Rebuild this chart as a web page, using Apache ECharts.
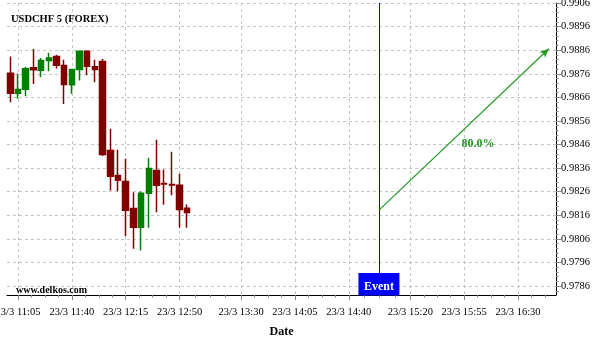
<!DOCTYPE html>
<html><head><meta charset="utf-8">
<script src="https://cdn.jsdelivr.net/npm/echarts@6/dist/echarts.min.js"></script>
<style>html,body{margin:0;padding:0;background:#fff}#c{width:600px;height:340px}</style>
</head><body><div id="c"></div>
<script>
const titleText = 'USDCHF 5 (FOREX)';
const watermark = 'www.delkos.com';
const times  = ['11:00','11:05','11:10','11:15','11:20','11:25','11:30','11:35','11:40','11:45','11:50','11:55',
                '12:00','12:05','12:10','12:15','12:20','12:25','12:30','12:35','12:40','12:45','12:50','12:55'];
const opens  = [0.98762,0.98677,0.98694,0.98786,0.98775,0.98816,0.98833,0.98795,0.98713,0.98778,0.98855,0.98790,
                0.98812,0.98435,0.98329,0.98303,0.98189,0.98109,0.98253,0.98350,0.98295,0.98290,0.98287,0.98190];
const closes = [0.98677,0.98693,0.98781,0.98777,0.98816,0.98827,0.98796,0.98714,0.98778,0.98855,0.98792,0.98778,
                0.98418,0.98325,0.98308,0.98181,0.98109,0.98253,0.98358,0.98287,0.98293,0.98288,0.98185,0.98172];
const lows   = [0.98639,0.98654,0.98665,0.98717,0.98745,0.98771,0.98782,0.98632,0.98675,0.98731,0.98754,0.98724,
                0.98411,0.98265,0.98262,0.98071,0.98018,0.98011,0.98107,0.98173,0.98205,0.98245,0.98107,0.98107];
const highs  = [0.98833,0.98761,0.98790,0.98865,0.98827,0.98849,0.98841,0.98819,0.98781,0.98855,0.98855,0.98819,
                0.98823,0.98527,0.98438,0.98400,0.98258,0.98261,0.98404,0.98480,0.98354,0.98429,0.98336,0.98206];
const xTickLabels = ['11:05','11:40','12:15','12:50','13:30','14:05','14:40','15:20','15:55','16:30'];
const yTickLabels = [0.9786,0.9796,0.9806,0.9816,0.9826,0.9836,0.9846,0.9856,0.9866,0.9876,0.9886,0.9896,0.9906];
const eventTime = '15:00';
const eventLabel = 'Event';
const arrowFrom = ['15:00', 0.98184];
const arrowTo   = ['16:50', 0.98866];
const arrowText = '80.0%';
const arrowTextAt = ['16:04', 0.98463];

const toMin = s => { const p = s.split(':'); return (+p[0]) * 60 + (+p[1]); };
const fmtMin = v => { const h = Math.floor(v / 60), m = Math.round(v - h * 60); return '23/3 ' + h + ':' + (m < 10 ? '0' : '') + m; };
const xMin = 657.85, xMax = 1014.7, yMin = 0.97822, yMax = 0.9906;
const FONT = 'Liberation Serif';

const xMajor = xTickLabels.map(toMin);
const xMinor = [];
for (let i = 0; i < xMajor.length - 1; i++) {
  const a = xMajor[i], b = xMajor[i + 1];
  for (let k = 1; k < 4; k++) xMinor.push(a + (b - a) * k / 4);
}
for (let k = 1; k < 4; k++) { const v = xMajor[xMajor.length - 1] + 8.75 * k; if (v < xMax) xMinor.push(v); }
for (let k = 1; k < 4; k++) { const v = xMajor[0] - 8.75 * k; if (v > xMin) xMinor.push(v); }
const yMinor = [];
for (let v = 0.9784; v < yMax; v += 0.0002) yMinor.push(+v.toFixed(4));

const candles = times.map((t, i) => [toMin(t), opens[i], closes[i], lows[i], highs[i]]);

const chart = echarts.init(document.getElementById('c'), null, { renderer: 'canvas' });
const dashed = { show: true, lineStyle: { color: '#c4c4c4', type: [3, 3], width: 1 } };
chart.setOption({
  animation: false,
  backgroundColor: '#fff',
  title: [
    { text: titleText, left: 11, top: 14, padding: 0, textStyle: { fontFamily: FONT, fontWeight: 'bold', fontSize: 10.5, color: '#000' } },
    { text: watermark, left: 16, top: 285, padding: 0, textStyle: { fontFamily: FONT, fontWeight: 'bold', fontSize: 10, color: '#000' } }
  ],
  grid: { left: 7, right: 44, top: 3, bottom: 45, containLabel: false, outerBoundsMode: 'none' },
  xAxis: [
    {
      type: 'value', min: xMin, max: xMax, position: 'bottom',
      name: 'Date', nameLocation: 'middle', nameGap: 31,
      nameTextStyle: { fontFamily: FONT, fontWeight: 'bold', fontSize: 12, color: '#000' },
      axisLine: { show: true, lineStyle: { color: '#000', width: 1 } },
      axisTick: { show: true, length: 5, lineStyle: { color: '#888' }, customValues: xMajor },
      axisLabel: { show: true, customValues: xMajor, formatter: fmtMin, margin: 12,
                   fontFamily: FONT, fontSize: 10.5, color: '#000', hideOverlap: false },
      splitLine: dashed
    },
    {
      type: 'value', min: xMin, max: xMax, position: 'bottom', gridIndex: 0,
      axisLine: { show: false },
      axisTick: { show: true, length: 2.5, lineStyle: { color: '#888' }, customValues: xMinor },
      axisLabel: { show: false },
      splitLine: { show: false }
    }
  ],
  yAxis: [
    {
      type: 'value', min: yMin, max: yMax, position: 'right', scale: true,
      axisLine: { show: true, lineStyle: { color: '#000', width: 1 } },
      axisTick: { show: true, length: 5, lineStyle: { color: '#888' }, customValues: yTickLabels },
      axisLabel: { show: true, customValues: yTickLabels, formatter: v => v.toFixed(4), margin: 5,
                   fontFamily: FONT, fontSize: 10.5, color: '#000' },
      splitLine: dashed
    },
    {
      type: 'value', min: yMin, max: yMax, position: 'right', scale: true,
      axisLine: { show: false },
      axisTick: { show: true, length: 2.5, lineStyle: { color: '#888' }, customValues: yMinor },
      axisLabel: { show: false },
      splitLine: { show: false }
    }
  ],
  series: [{
    type: 'candlestick',
    xAxisIndex: 0, yAxisIndex: 0,
    data: candles,
    encode: { x: 0, y: [1, 2, 3, 4] },
    barWidth: 6,
    itemStyle: { color: '#008000', color0: '#800000', borderColor: '#008000', borderColor0: '#800000', borderWidth: 1.5 },
    markLine: {
      silent: true, animation: false,
      data: [
        [ { coord: [toMin(eventTime), 0.97915], symbol: 'none', lineStyle: { color: '#0000dd', width: 1, type: 'solid' } },
          { coord: [toMin(eventTime), yMax], symbol: 'none' } ],
        [ { coord: [toMin(arrowFrom[0]), arrowFrom[1]], symbol: 'none', lineStyle: { color: '#229922', width: 1.2, type: 'solid' } },
          { coord: [toMin(arrowTo[0]), arrowTo[1]], symbol: 'arrow', symbolSize: [6, 9] } ]
      ],
      label: { show: false }
    },
    markPoint: {
      silent: true, animation: false,
      data: [
        { coord: [toMin(eventTime) - 0.4, 0.978678], symbol: 'rect', symbolSize: [41, 22.5],
          itemStyle: { color: '#0000ff' },
          label: { show: true, formatter: eventLabel, position: 'inside', offset: [0, 3], color: '#fff',
                   fontFamily: FONT, fontWeight: 'bold', fontSize: 12 } },
        { coord: [toMin(arrowTextAt[0]), arrowTextAt[1]], symbol: 'rect', symbolSize: [2, 2],
          itemStyle: { color: 'rgba(255,255,255,0)' },
          label: { show: true, formatter: arrowText, position: 'inside', color: '#229922',
                   fontFamily: FONT, fontWeight: 'bold', fontSize: 12 } }
      ]
    }
  }]
});
</script>
</body></html>
